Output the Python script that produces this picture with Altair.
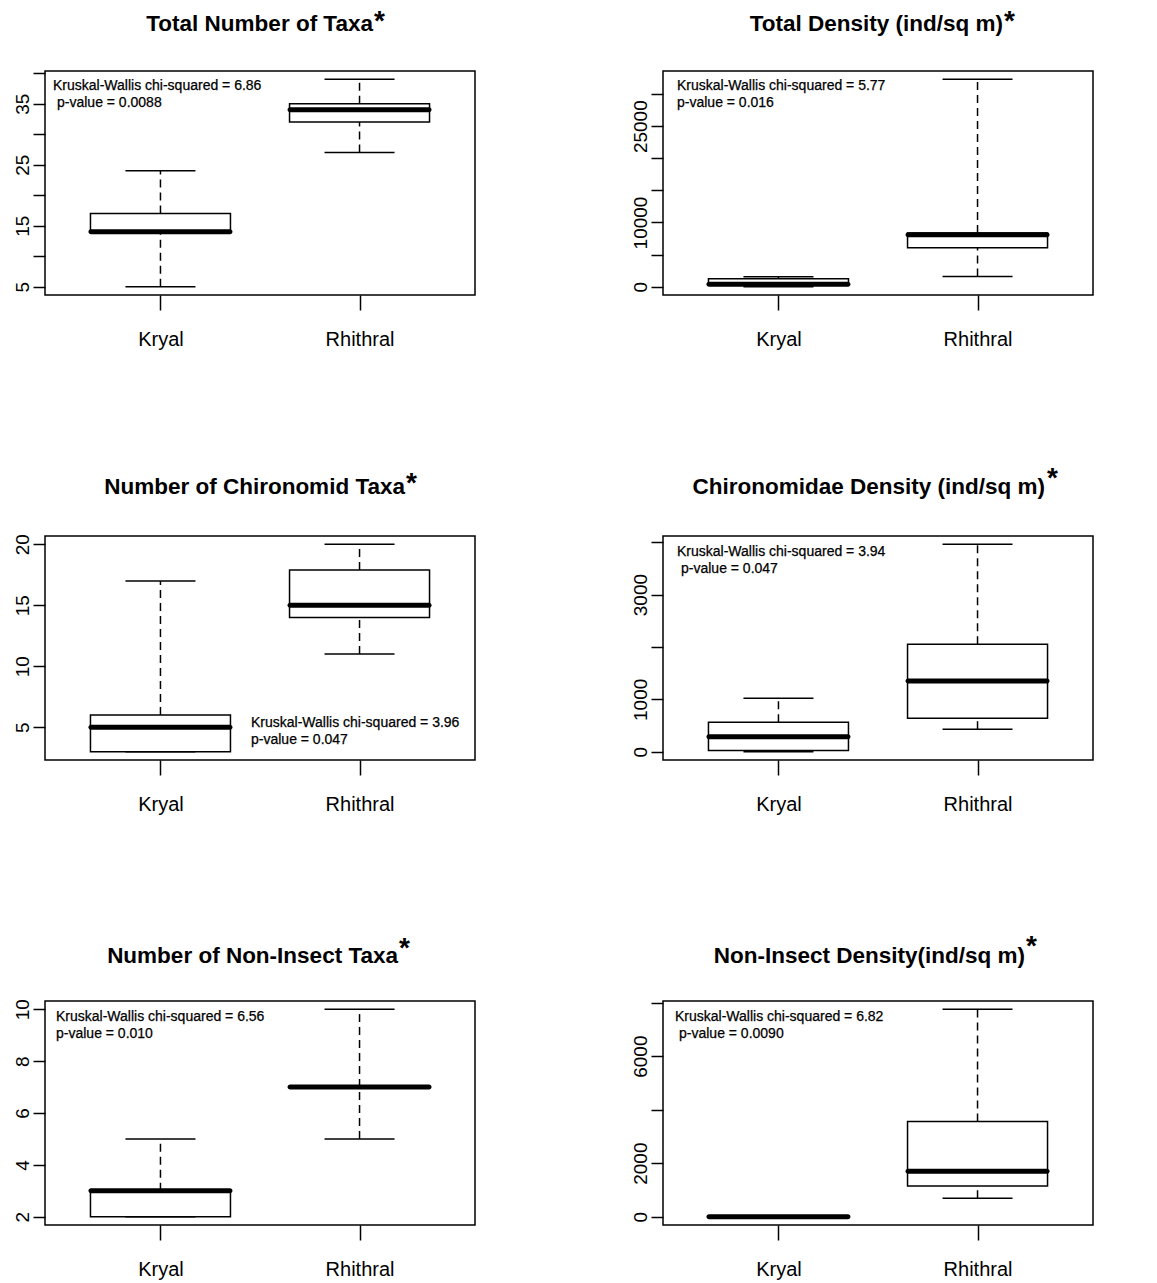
import altair as alt
import pandas as pd

groups = ["Kryal", "Rhithral"]

titles = [
    "Total Number of Taxa",
    "Total Density (ind/sq m)",
    "Number of Chironomid Taxa",
    "Chironomidae Density (ind/sq m)",
    "Number of Non-Insect Taxa",
    "Non-Insect Density(ind/sq m)",
]

# five-number summaries per group: [lower whisker, Q1, median, Q3, upper whisker]
total_taxa = [[5, 14, 14, 17, 24], [27, 32, 34, 35, 39]]
total_density = [[0, 250, 380, 1250, 1550], [1570, 6050, 8100, 8350, 32300]]
chiro_taxa = [[3, 3, 5, 6, 17], [11, 14, 15, 17.9, 20]]
chiro_density = [[0, 25, 286, 560, 1020], [430, 640, 1350, 2050, 3960]]
noninsect_taxa = [[2, 2, 3, 3, 5], [5, 7, 7, 7, 10]]
noninsect_density = [[0, 0, 0, 15, 30], [690, 1150, 1700, 3560, 7750]]

summaries = [total_taxa, total_density, chiro_taxa, chiro_density,
             noninsect_taxa, noninsect_density]

# y-axis tick positions and the ticks that carry a label
y_ticks = [
    [5, 10, 15, 20, 25, 30, 35, 40],
    [0, 5000, 10000, 15000, 20000, 25000, 30000],
    [5, 10, 15, 20],
    [0, 1000, 2000, 3000, 4000],
    [2, 4, 6, 8, 10],
    [0, 2000, 4000, 6000, 8000],
]
y_labelled = [
    [5, 15, 25, 35],
    [0, 10000, 25000],
    [5, 10, 15, 20],
    [0, 1000, 3000],
    [2, 4, 6, 8, 10],
    [0, 2000, 6000],
]

# Kruskal-Wallis results
kw_chi = ["6.86", "5.77", "3.96", "3.94", "6.56", "6.82"]
kw_p = ["0.0088", "0.016", "0.047", "0.047", "0.010", "0.0090"]
kw_indent = [4, 0, 0, 4, 0, 4]

# text placement inside each panel (pixels from the plot's top-left corner)
kw_pos = [(8, 15, 32), (14, 15, 32), (206, 187, 204),
          (14, 16, 33), (11, 16, 33), (12, 16, 33)]
title_pos = [(328, -40), (340, -40), (360, -42), (382, -42), (353, -38), (362, -38)]
star_pos = [(329, -41), (341, -41), (361, -44), (384, -49), (354, -44), (363, -46)]

SANS = "Liberation Sans"
W, H = 430, 224
BOX_W, CAP_W = 140, 70
TITLE_SIZE = 22.5
STAR_SIZE = 28


def one_row():
    return alt.Chart(pd.DataFrame({"k": [0]}))


def panel(i):
    stats = summaries[i]
    df = pd.DataFrame({
        "group": groups,
        "lo": [s[0] for s in stats],
        "q1": [s[1] for s in stats],
        "med": [s[2] for s in stats],
        "q3": [s[3] for s in stats],
        "hi": [s[4] for s in stats],
    })
    values = [v for s in stats for v in s]
    vmin, vmax = min(values), max(values)
    ext = 0.04 * (vmax - vmin)

    keep = ",".join(str(v) for v in y_labelled[i])
    x = alt.X(
        "group:N", sort=groups,
        scale=alt.Scale(type="point", padding=0.58),
        axis=alt.Axis(title=None, domain=False, grid=False, tickSize=15,
                      labelPadding=19, labelAngle=0, labelFont=SANS,
                      labelFontSize=20),
    )
    y = alt.Y(
        "q1:Q",
        scale=alt.Scale(domain=[vmin - ext, vmax + ext], nice=False, zero=False),
        axis=alt.Axis(title=None, values=y_ticks[i], tickCount=50, format="d",
                      domain=False, grid=False, tickSize=12, labelAngle=-90,
                      labelAlign="center", labelBaseline="alphabetic",
                      labelPadding=5, labelFont=SANS, labelFontSize=19,
                      labelOverlap=False, labelFlush=False,
                      labelExpr=f"indexof([{keep}], datum.value) >= 0 ? datum.label : ''"),
    )

    base = alt.Chart(df)
    box = base.mark_bar(size=BOX_W, fill="white", stroke="black",
                        strokeWidth=1.5, opacity=1).encode(x=x, y=y, y2="q3:Q")
    whisk_hi = base.mark_rule(color="black", strokeWidth=1.5,
                              strokeDash=[8, 5]).encode(x="group:N", y="q3:Q", y2="hi:Q")
    whisk_lo = base.mark_rule(color="black", strokeWidth=1.5,
                              strokeDash=[8, 5]).encode(x="group:N", y="lo:Q", y2="q1:Q")
    cap_hi = base.mark_tick(color="black", size=CAP_W, thickness=1.5,
                            opacity=1).encode(x="group:N", y="hi:Q")
    cap_lo = base.mark_tick(color="black", size=CAP_W, thickness=1.5,
                            opacity=1).encode(x="group:N", y="lo:Q")
    median = base.mark_tick(color="black", size=BOX_W + 4, thickness=5,
                            cornerRadius=2.5, opacity=1).encode(x="group:N", y="med:Q")

    ax, ay1, ay2 = kw_pos[i]
    kw1 = one_row().mark_text(
        text=f"Kruskal-Wallis chi-squared = {kw_chi[i]}", align="left",
        baseline="middle", font=SANS, fontSize=14, color="black",
        stroke="black", strokeWidth=0.25,
    ).encode(x=alt.value(ax), y=alt.value(ay1))
    kw2 = one_row().mark_text(
        text=f"p-value = {kw_p[i]}", align="left", baseline="middle",
        font=SANS, fontSize=14, color="black", stroke="black",
        strokeWidth=0.25, dx=kw_indent[i],
    ).encode(x=alt.value(ax), y=alt.value(ay2))

    tx, ty = title_pos[i]
    title = one_row().mark_text(
        text=titles[i], align="right", baseline="alphabetic", font=SANS,
        fontSize=TITLE_SIZE, fontWeight="bold", color="black",
    ).encode(x=alt.value(tx), y=alt.value(ty))
    sx, sy = star_pos[i]
    star = one_row().mark_text(
        text="*", align="left", baseline="alphabetic", font=SANS,
        fontSize=STAR_SIZE, fontWeight="bold", color="black",
    ).encode(x=alt.value(sx), y=alt.value(sy))

    return alt.layer(box, whisk_hi, whisk_lo, cap_hi, cap_lo, median,
                     kw1, kw2, title, star).properties(width=W, height=H)


chart = alt.concat(
    *[panel(i) for i in range(6)],
    columns=2,
    spacing={"row": 241, "column": 188},
    bounds="flush",
).properties(
    padding={"left": 12, "top": 7, "right": 5, "bottom": 5},
).configure_view(
    stroke="black", strokeWidth=1.5,
).configure_axis(
    tickColor="black", tickWidth=1.5, labelColor="black",
)

chart.save("out.html", embed_options={"renderer": "svg", "actions": False})
